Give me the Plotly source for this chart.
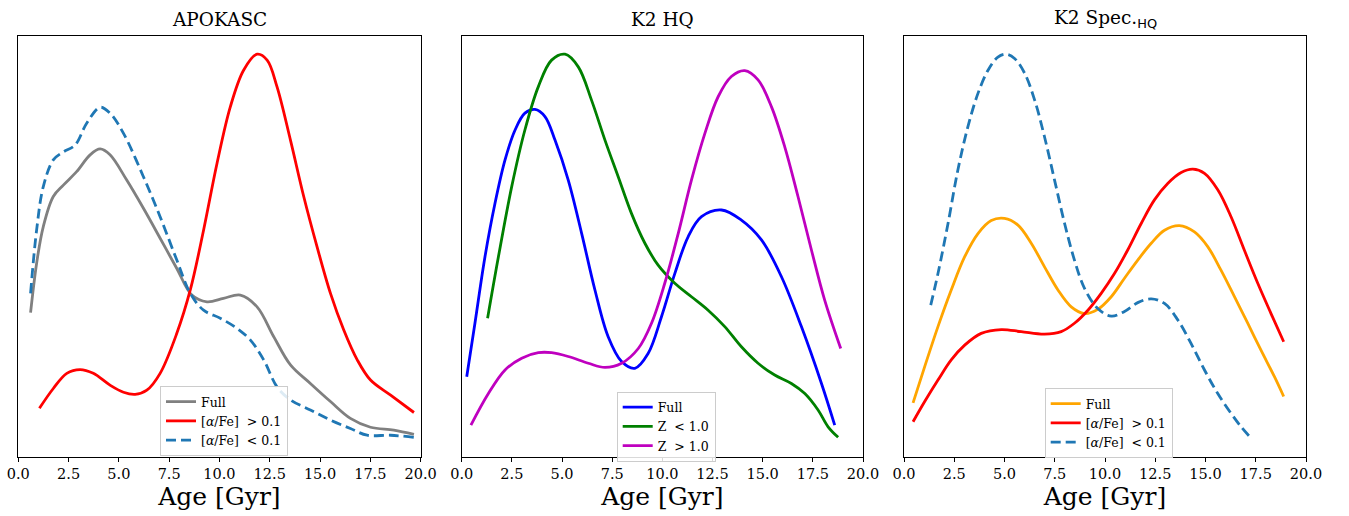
import plotly.graph_objects as go

# ---------------- data (x: Age [Gyr], y: relative density, fraction of axis height) -------------
# Panel 1: APOKASC
apo_full_x = [0.61, 0.91, 1.24, 1.74, 2.24, 2.90, 3.57, 4.07, 4.56, 5.39, 6.22, 7.05, 7.88, 8.63, 9.38,
              10.2, 11.04, 11.87, 12.7, 13.53, 14.52, 15.52, 16.51, 17.51, 18.67, 19.67]
apo_full_y = [0.342, 0.459, 0.546, 0.618, 0.645, 0.677, 0.717, 0.731, 0.717, 0.657, 0.590, 0.519, 0.447,
              0.384, 0.368, 0.376, 0.384, 0.356, 0.285, 0.218, 0.174, 0.131, 0.091, 0.070, 0.063, 0.053]
apo_hi_x = [1.05, 1.74, 2.41, 3.07, 3.73, 4.56, 5.23, 5.81, 6.39, 7.05, 7.88, 8.55, 9.21, 9.88, 10.54,
            11.20, 11.87, 12.37, 12.86, 13.53, 14.19, 14.85, 15.52, 16.18, 16.85, 17.51, 18.51, 19.67]
apo_hi_y = [0.115, 0.162, 0.198, 0.207, 0.198, 0.170, 0.153, 0.148, 0.158, 0.198, 0.293, 0.396, 0.538,
            0.697, 0.831, 0.918, 0.956, 0.942, 0.879, 0.752, 0.618, 0.499, 0.388, 0.301, 0.230, 0.182,
            0.146, 0.105]
apo_lo_x = [0.61, 0.91, 1.24, 1.74, 2.24, 2.82, 3.40, 4.07, 4.56, 5.23, 6.22, 7.05, 7.88, 8.55, 9.21,
            10.04, 10.87, 11.54, 12.2, 12.86, 13.53, 14.52, 15.52, 16.51, 17.34, 18.51, 19.67]
apo_lo_y = [0.388, 0.538, 0.641, 0.705, 0.724, 0.740, 0.792, 0.830, 0.816, 0.768, 0.665, 0.570, 0.467,
            0.388, 0.348, 0.329, 0.305, 0.277, 0.230, 0.166, 0.135, 0.111, 0.087, 0.067, 0.051, 0.051,
            0.046]

# Panel 2: K2 HQ
k2_full_x = [0.25, 0.66, 1.16, 1.66, 2.16, 2.66, 3.15, 3.65, 4.15, 4.65, 5.31, 5.98, 6.64, 7.30, 7.97,
             8.63, 9.29, 9.96, 10.62, 11.29, 11.95, 12.95, 13.94, 14.94, 15.93, 16.93, 17.93, 18.59]
k2_full_y = [0.190, 0.317, 0.475, 0.602, 0.705, 0.776, 0.816, 0.825, 0.808, 0.752, 0.657, 0.530, 0.396,
             0.285, 0.226, 0.210, 0.245, 0.333, 0.435, 0.523, 0.570, 0.586, 0.562, 0.515, 0.428, 0.309,
             0.174, 0.075]
k2_zlo_x = [1.29, 1.83, 2.49, 3.15, 3.82, 4.48, 5.15, 5.81, 6.47, 7.14, 7.80, 8.46, 9.13, 9.79, 10.62,
            11.45, 12.28, 13.11, 13.94, 14.77, 15.60, 16.43, 17.10, 17.76, 18.26, 18.76]
k2_zlo_y = [0.329, 0.475, 0.641, 0.776, 0.879, 0.942, 0.956, 0.926, 0.847, 0.752, 0.665, 0.578, 0.507,
            0.455, 0.412, 0.380, 0.348, 0.309, 0.261, 0.222, 0.194, 0.174, 0.150, 0.111, 0.071, 0.046]
k2_zhi_x = [0.46, 1.33, 2.16, 2.99, 3.82, 4.48, 5.31, 6.31, 7.14, 7.97, 8.80, 9.46, 10.12, 10.79, 11.45,
            12.12, 12.78, 13.44, 14.11, 14.77, 15.44, 16.10, 16.76, 17.43, 18.09, 18.89]
k2_zhi_y = [0.075, 0.150, 0.206, 0.234, 0.247, 0.247, 0.238, 0.222, 0.212, 0.222, 0.257, 0.317, 0.412,
            0.530, 0.657, 0.768, 0.855, 0.903, 0.917, 0.895, 0.831, 0.736, 0.618, 0.491, 0.372, 0.257]

# Panel 3: K2 Spec.HQ
sp_full_x = [0.45, 1.03, 1.69, 2.35, 3.02, 3.68, 4.34, 5.00, 5.67, 6.33, 6.99, 7.66, 8.32, 8.98, 9.64,
             10.31, 10.97, 11.63, 12.30, 12.96, 13.70, 14.45, 15.11, 15.77, 16.44, 17.10, 17.76, 18.43,
             18.89]
sp_full_y = [0.128, 0.214, 0.309, 0.396, 0.475, 0.530, 0.561, 0.566, 0.550, 0.507, 0.451, 0.396, 0.356,
             0.340, 0.350, 0.380, 0.424, 0.467, 0.507, 0.538, 0.549, 0.534, 0.499, 0.443, 0.380, 0.317,
             0.253, 0.190, 0.143]
sp_hi_x = [0.45, 1.03, 1.69, 2.35, 3.02, 3.84, 4.84, 5.83, 6.99, 7.82, 8.48, 9.15, 9.81, 10.47, 11.13,
           11.80, 12.46, 13.12, 13.79, 14.37, 14.95, 15.61, 16.27, 16.93, 17.60, 18.26, 18.89]
sp_hi_y = [0.083, 0.131, 0.182, 0.230, 0.265, 0.293, 0.302, 0.297, 0.291, 0.297, 0.317, 0.348, 0.388,
           0.435, 0.491, 0.554, 0.610, 0.649, 0.675, 0.683, 0.673, 0.634, 0.570, 0.491, 0.412, 0.340,
           0.273]
sp_lo_x = [1.33, 1.69, 2.19, 2.68, 3.18, 3.68, 4.18, 4.67, 5.09, 5.50, 6.00, 6.50, 6.99, 7.49, 7.99,
           8.48, 8.98, 9.64, 10.31, 10.97, 11.63, 12.30, 12.96, 13.62, 14.28, 14.95, 15.61, 16.27, 16.77,
           17.23]
sp_lo_y = [0.360, 0.435, 0.554, 0.681, 0.784, 0.863, 0.918, 0.949, 0.956, 0.946, 0.911, 0.847, 0.760,
           0.657, 0.554, 0.467, 0.400, 0.352, 0.334, 0.345, 0.366, 0.375, 0.364, 0.325, 0.269, 0.206,
           0.150, 0.103, 0.071, 0.046]

titles = ["APOKASC", "K2 HQ",
          "K2 Spec.<sub><span style='font-family:DejaVu Sans'>HQ</span></sub>"]
tick_vals = [0, 2.5, 5, 7.5, 10, 12.5, 15, 17.5, 20]
tick_text = ["0.0", "2.5", "5.0", "7.5", "10.0", "12.5", "15.0", "17.5", "20.0"]
alpha_hi = "[<i>α</i>/Fe]  > 0.1"
alpha_lo = "[<i>α</i>/Fe]  < 0.1"

# ---------------- figure ----------------
SERIF = "DejaVu Serif"
W, H = 1349, 516
LW = 2.8
DASH = "10px,5px"

fig = go.Figure()


def add(x, y, name, color, panel, dash="solid"):
    sfx = "" if panel == 1 else str(panel)
    fig.add_trace(go.Scatter(
        x=x, y=y, name=name, mode="lines",
        line=dict(color=color, width=LW, dash=dash, shape="spline", smoothing=1.0),
        xaxis="x" + sfx, yaxis="y" + sfx, legend="legend" + sfx))


add(apo_full_x, apo_full_y, "Full", "#808080", 1)
add(apo_hi_x, apo_hi_y, alpha_hi, "#ff0000", 1)
add(apo_lo_x, apo_lo_y, alpha_lo, "#1f77b4", 1, DASH)

add(k2_full_x, k2_full_y, "Full", "#0000ff", 2)
add(k2_zlo_x, k2_zlo_y, "Z  < 1.0", "#008000", 2)
add(k2_zhi_x, k2_zhi_y, "Z  > 1.0", "#bf00bf", 2)

add(sp_full_x, sp_full_y, "Full", "#ffa500", 3)
add(sp_hi_x, sp_hi_y, alpha_hi, "#ff0000", 3)
add(sp_lo_x, sp_lo_y, alpha_lo, "#1f77b4", 3, DASH)

# panel pixel extents
px_left = [18.3, 461.7, 904.0]
px_right = [420.6, 863.0, 1306.0]
py_top, py_bot = 35.7, 456.7

legend_pos = [(160.0, 386.0), (616.7, 391.5), (1044.7, 388.0)]

layout = dict(
    width=W, height=H,
    margin=dict(l=0, r=0, t=0, b=0, autoexpand=False),
    paper_bgcolor="white", plot_bgcolor="white",
    font=dict(family=SERIF, color="black"),
    annotations=[],
)

for i in range(3):
    sfx = "" if i == 0 else str(i + 1)
    dom = [px_left[i] / W, px_right[i] / W]
    layout["xaxis" + sfx] = dict(
        domain=dom, range=[0, 20], anchor="y" + sfx, automargin=False,
        tickmode="array", tickvals=tick_vals, ticktext=tick_text,
        ticks="outside", ticklen=4, tickwidth=1, tickcolor="black",
        tickfont=dict(family=SERIF, size=14.5, color="black"),
        showline=True, linecolor="black", linewidth=1, mirror=True,
        showgrid=False, zeroline=False,
        title=dict(text="Age [Gyr]", font=dict(family=SERIF, size=25, color="black"), standoff=4),
    )
    layout["yaxis" + sfx] = dict(
        domain=[(H - py_bot) / H, (H - py_top) / H], range=[0, 1], anchor="x" + sfx,
        automargin=False,
        showticklabels=False, ticks="", showline=True, linecolor="black", linewidth=1,
        mirror=True, showgrid=False, zeroline=False,
    )
    lx, ly = legend_pos[i]
    layout["legend" + sfx] = dict(
        x=lx / W, y=(H - ly) / H, xanchor="left", yanchor="top",
        xref="paper", yref="paper",
        bgcolor="rgba(255,255,255,0.85)", bordercolor="#cccccc", borderwidth=1,
        font=dict(family=SERIF, size=12.5, color="black"),
        itemwidth=30, tracegroupgap=0,
    )
    layout["annotations"].append(dict(
        text=titles[i], x=(px_left[i] + px_right[i]) / 2 / W, y=(H - 19.5) / H,
        xref="paper", yref="paper", xanchor="center", yanchor="middle",
        showarrow=False, font=dict(family=SERIF, size=18.5, color="black"),
    ))

fig.update_layout(**layout)
fig.write_html("out.html", config={"displayModeBar": False},
               post_script="document.body.style.margin='0';document.body.style.overflow='hidden';")
